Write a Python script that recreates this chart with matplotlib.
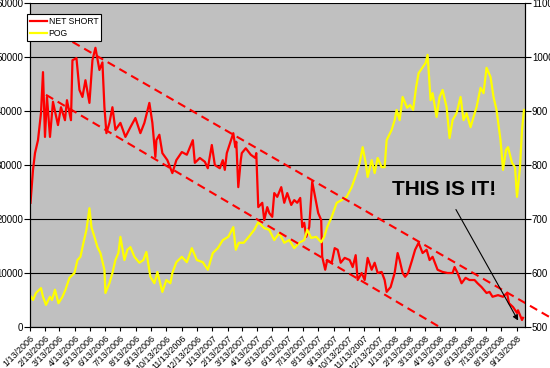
import matplotlib
matplotlib.use('Agg')
import matplotlib.pyplot as plt
import matplotlib.dates as mdates
import pandas as pd

plt.rcParams['font.family'] = ['Liberation Sans', 'DejaVu Sans']

# net short (left axis)
ns_dates = ['2006-01-14', '2006-01-19', '2006-01-23', '2006-01-29', '2006-02-04', '2006-02-08',
            '2006-02-12', '2006-02-16', '2006-02-22', '2006-02-28', '2006-03-10', '2006-03-16',
            '2006-03-24', '2006-03-28', '2006-04-05', '2006-04-08', '2006-04-16', '2006-04-22',
            '2006-04-28', '2006-05-04', '2006-05-12', '2006-05-18', '2006-05-24', '2006-06-01',
            '2006-06-07', '2006-06-11', '2006-06-15', '2006-06-21', '2006-06-27', '2006-07-03',
            '2006-07-13', '2006-07-23', '2006-08-02', '2006-08-12', '2006-08-22', '2006-08-30',
            '2006-09-09', '2006-09-15', '2006-09-21', '2006-09-23', '2006-09-29', '2006-10-05',
            '2006-10-15', '2006-10-25', '2006-11-02', '2006-11-13', '2006-11-23', '2006-12-05',
            '2006-12-09', '2006-12-19', '2006-12-29', '2007-01-04', '2007-01-12', '2007-01-18',
            '2007-01-28', '2007-02-03', '2007-02-07', '2007-02-11', '2007-02-24', '2007-02-28',
            '2007-03-02', '2007-03-06', '2007-03-11', '2007-03-13', '2007-03-21', '2007-03-31',
            '2007-04-09', '2007-04-11', '2007-04-15', '2007-04-23', '2007-04-27', '2007-05-03',
            '2007-05-07', '2007-05-13', '2007-05-17', '2007-05-23', '2007-05-31', '2007-06-06',
            '2007-06-12', '2007-06-20', '2007-06-26', '2007-07-02', '2007-07-08', '2007-07-12',
            '2007-07-16', '2007-07-20', '2007-07-26', '2007-08-01', '2007-08-09', '2007-08-13',
            '2007-08-19', '2007-08-21', '2007-08-27', '2007-08-31', '2007-09-09', '2007-09-15',
            '2007-09-21', '2007-09-27', '2007-10-05', '2007-10-15', '2007-10-21', '2007-10-27',
            '2007-10-31', '2007-11-08', '2007-11-14', '2007-11-20', '2007-11-28', '2007-12-04',
            '2007-12-10', '2007-12-18', '2007-12-24', '2007-12-28', '2008-01-05', '2008-01-13',
            '2008-01-19', '2008-01-23', '2008-01-29', '2008-02-03', '2008-02-09', '2008-02-17',
            '2008-02-23', '2008-03-01', '2008-03-09', '2008-03-17', '2008-03-23', '2008-03-29',
            '2008-04-08', '2008-04-18', '2008-04-28', '2008-05-08', '2008-05-12', '2008-05-18',
            '2008-05-26', '2008-06-03', '2008-06-11', '2008-06-21', '2008-06-27', '2008-07-05',
            '2008-07-15', '2008-07-21', '2008-07-27', '2008-08-07', '2008-08-17', '2008-08-25',
            '2008-08-29', '2008-09-06', '2008-09-14', '2008-09-16', '2008-09-24', '2008-09-26']
ns_values = [23000, 29100, 32200, 34600, 39600, 47200, 35200, 42600, 35200, 41700, 37400, 40700,
             38300, 42000, 38300, 49400, 49800, 43900, 42600, 45700, 41500, 49400, 51700, 47600,
             49000, 40700, 35900, 37800, 40700, 36500, 37800, 35200, 37000, 38700, 35900, 37800,
             41500, 37800, 31500, 34600, 35600, 32200, 30900, 28500, 30900, 32400, 31900, 34600,
             30400, 31300, 30600, 29400, 33700, 30000, 29400, 30900, 29100, 32200, 35900, 33300,
             34300, 25900, 30900, 32200, 33100, 31900, 31300, 32200, 22200, 23000, 19800, 22200,
             21100, 20400, 24800, 24100, 25900, 23000, 24800, 22600, 23500, 23000, 23900, 18500,
             19300, 16700, 18500, 26900, 23000, 21100, 19800, 13000, 10600, 12400, 11900, 14600,
             14300, 11900, 12800, 12400, 11100, 13300, 8700, 10000, 8700, 12800, 10600, 11900,
             10000, 10200, 8700, 6500, 7400, 10000, 13700, 12400, 10000, 9300, 10000, 12400,
             14300, 15600, 13700, 14300, 12400, 13000, 10600, 10200, 10000, 10000, 11100, 10000,
             8100, 9100, 8700, 8700, 8100, 7400, 6300, 6500, 5600, 5900, 5600, 6300,
             4400, 3700, 2600, 3100, 1300, 1700]

# price of gold (right axis)
pog_dates = ['2006-01-15', '2006-01-19', '2006-01-25', '2006-02-04', '2006-02-08', '2006-02-14',
             '2006-02-22', '2006-02-26', '2006-03-04', '2006-03-11', '2006-03-19', '2006-03-25',
             '2006-04-02', '2006-04-12', '2006-04-18', '2006-04-24', '2006-04-30', '2006-05-06',
             '2006-05-12', '2006-05-16', '2006-05-22', '2006-05-28', '2006-06-03', '2006-06-11',
             '2006-06-13', '2006-06-21', '2006-06-27', '2006-07-03', '2006-07-09', '2006-07-13',
             '2006-07-21', '2006-07-27', '2006-08-02', '2006-08-10', '2006-08-20', '2006-08-28',
             '2006-09-03', '2006-09-11', '2006-09-19', '2006-09-25', '2006-10-05', '2006-10-13',
             '2006-10-21', '2006-10-25', '2006-11-02', '2006-11-13', '2006-11-23', '2006-12-03',
             '2006-12-13', '2006-12-25', '2007-01-04', '2007-01-14', '2007-01-24', '2007-02-03',
             '2007-02-14', '2007-02-24', '2007-03-01', '2007-03-07', '2007-03-17', '2007-03-27',
             '2007-04-07', '2007-04-15', '2007-04-27', '2007-05-07', '2007-05-17', '2007-05-27',
             '2007-06-06', '2007-06-16', '2007-06-26', '2007-07-06', '2007-07-16', '2007-07-22',
             '2007-07-30', '2007-08-09', '2007-08-19', '2007-08-25', '2007-08-31', '2007-09-09',
             '2007-09-19', '2007-09-29', '2007-10-09', '2007-10-19', '2007-10-29', '2007-11-04',
             '2007-11-10', '2007-11-16', '2007-11-20', '2007-11-28', '2007-12-04', '2007-12-10',
             '2007-12-18', '2007-12-24', '2007-12-28', '2008-01-07', '2008-01-13', '2008-01-17',
             '2008-01-23', '2008-01-29', '2008-02-07', '2008-02-13', '2008-02-19', '2008-02-25',
             '2008-03-01', '2008-03-09', '2008-03-15', '2008-03-19', '2008-03-25', '2008-03-29',
             '2008-04-06', '2008-04-12', '2008-04-18', '2008-04-26', '2008-05-02', '2008-05-08',
             '2008-05-16', '2008-05-24', '2008-05-30', '2008-06-05', '2008-06-13', '2008-06-19',
             '2008-06-25', '2008-07-03', '2008-07-09', '2008-07-15', '2008-07-23', '2008-07-29',
             '2008-08-04', '2008-08-12', '2008-08-17', '2008-08-23', '2008-08-27', '2008-09-04',
             '2008-09-10', '2008-09-14', '2008-09-20', '2008-09-24', '2008-09-28']
pog_values = [556, 550, 563, 572, 556, 541, 556, 550, 569, 544, 556, 569,
              591, 600, 624, 630, 656, 680, 720, 685, 667, 648, 637, 606,
              563, 581, 600, 624, 637, 667, 624, 643, 648, 630, 619, 624,
              639, 593, 581, 602, 565, 587, 581, 600, 620, 630, 620, 646,
              624, 620, 606, 637, 646, 661, 667, 685, 643, 656, 656, 667,
              680, 694, 683, 680, 661, 674, 656, 661, 646, 656, 661, 680,
              665, 667, 657, 667, 685, 704, 730, 735, 741, 759, 785, 804,
              833, 804, 778, 809, 785, 813, 796, 796, 846, 865, 883, 902,
              883, 926, 906, 911, 902, 944, 970, 981, 989, 1004, 920, 933,
              889, 926, 939, 907, 850, 883, 896, 926, 883, 896, 870, 889,
              907, 943, 933, 980, 963, 926, 902, 846, 791, 828, 833, 804,
              796, 741, 796, 865, 902]

# hand drawn trend channel (left axis units)
upper_dates = ['2006-04-08', '2008-11-18']
upper_values = [52800, 1850]
lower_dates = ['2006-02-14', '2008-04-12']
lower_values = [43000, 0]

tick_dates = pd.date_range('2006-01-13', '2008-09-13', freq=pd.DateOffset(months=1))
tick_labels = ['%d/13/%d' % (d.month, d.year) for d in tick_dates]


def dnum(s):
    return mdates.date2num(pd.Timestamp(s))


fig = plt.figure(figsize=(5.5, 3.68), dpi=100)
ax = fig.add_axes([30 / 550, 41 / 368, 495 / 550, 324 / 368])
ax.set_facecolor('#c0c0c0')
ax2 = ax.twinx()
ax2.patch.set_visible(False)

l1, = ax.plot(pd.to_datetime(ns_dates), ns_values, color='#ff0000', lw=1.6, label='NET SHORT')
l2, = ax2.plot(pd.to_datetime(pog_dates), pog_values, color='#ffff00', lw=1.6, label='POG')

ax.set_ylim(0, 60000)
ax.set_yticks(range(0, 60001, 10000))
ax2.set_ylim(500, 1100)
ax2.set_yticks(range(500, 1101, 100))
ax.set_xlim(pd.Timestamp('2006-01-13'), pd.Timestamp('2008-09-30'))
ax.set_xticks(tick_dates)
ax.set_xticklabels(tick_labels, rotation=45, ha='right', rotation_mode='anchor')

ax.yaxis.grid(True, color='black', lw=0.8)
ax.set_axisbelow(True)
for a in (ax, ax2):
    a.spines['top'].set_visible(False)
    a.tick_params(labelsize=7, length=4, width=0.8, direction='out', pad=1)
ax.tick_params(axis='x', labelsize=6.5, length=3, pad=2)

# trend lines drawn on top of both series
ax2.plot([dnum(d) for d in upper_dates], upper_values, transform=ax.transData, color='#ff0000',
         lw=1.5, dashes=(4, 2.5), clip_on=False)
ax2.plot([dnum(d) for d in lower_dates], lower_values, transform=ax.transData, color='#ff0000',
         lw=1.5, dashes=(4, 2.5), clip_on=True, clip_box=ax.bbox)

ax2.text(dnum('2008-04-22'), 25500, 'THIS IS IT!', transform=ax.transData,
         fontsize=15, fontweight='bold', ha='center', va='center')
ax2.annotate('', xy=(dnum('2008-09-19'), 740), xytext=(dnum('2008-05-12'), 22200),
             xycoords=ax.transData, textcoords=ax.transData,
             arrowprops=dict(arrowstyle='-|>', color='black', lw=0.8, mutation_scale=8))

leg = ax2.legend(handles=[l1, l2], loc='upper left', bbox_to_anchor=(-0.006, 0.966),
                 borderaxespad=0, fontsize=6.2, fancybox=False, framealpha=1,
                 edgecolor='black', handlelength=2.0, handletextpad=0.2,
                 labelspacing=0.4, borderpad=0.3)
leg.get_frame().set_linewidth(0.8)

fig.savefig('out.png', dpi=100)
